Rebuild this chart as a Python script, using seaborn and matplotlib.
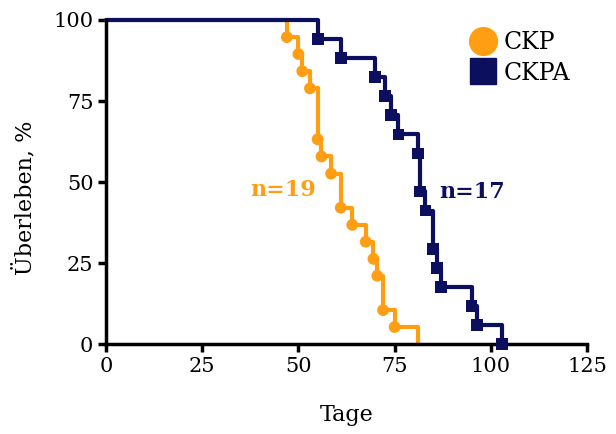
import numpy as np
import pandas as pd
import seaborn as sns
import matplotlib.pyplot as plt
from matplotlib.lines import Line2D

# Kaplan-Meier curves (day, survival %)
ckp_days = [0, 47, 50, 51, 53, 55, 56, 58.5, 61, 64, 67.5, 69.5, 70.5, 72, 75, 81]
ckp_surv = [100, 94.7, 89.5, 84.2, 78.9, 63.2, 57.9, 52.6, 42.1, 36.8, 31.6, 26.3, 21.1, 10.5, 5.3, 0]
ckpa_days = [0, 55, 61, 70, 72.5, 74, 76, 81, 81.5, 83, 85, 86, 87, 95, 96.5, 103]
ckpa_surv = [100, 94.1, 88.2, 82.4, 76.5, 70.6, 64.7, 58.8, 47.1, 41.2, 29.4, 23.5, 17.6, 11.8, 5.9, 0]

orange = "#FF9E12"
navy = "#0B0F5E"

sns.set_style("ticks")
plt.rcParams['font.family'] = ['DejaVu Serif']
plt.rcParams['text.color'] = 'black'
plt.rcParams['axes.labelcolor'] = 'black'
plt.rcParams['xtick.color'] = 'black'
plt.rcParams['ytick.color'] = 'black'

ckp = pd.DataFrame({"Tage": ckp_days, "surv": ckp_surv})
ckpa = pd.DataFrame({"Tage": ckpa_days, "surv": ckpa_surv})

fig = plt.figure(figsize=(6.16, 4.34), dpi=100)
ax = fig.add_axes([0.172, 0.207, 0.781, 0.747])

sns.lineplot(data=ckp, x="Tage", y="surv", ax=ax, color=orange, lw=3,
             drawstyle="steps-post", estimator=None, sort=False, clip_on=False)
sns.lineplot(data=ckpa, x="Tage", y="surv", ax=ax, color=navy, lw=3,
             drawstyle="steps-post", estimator=None, sort=False, clip_on=False)

# symbols at each event (orange final point sits under the axis)
sns.scatterplot(data=ckp.iloc[1:-1], x="Tage", y="surv", ax=ax, color=orange,
                marker="o", s=72, edgecolor="none", clip_on=False, zorder=4)
sns.scatterplot(data=ckpa.iloc[1:], x="Tage", y="surv", ax=ax, color=navy,
                marker="s", s=72, edgecolor="none", clip_on=False, zorder=4)

ax.set_xlim(0, 125)
ax.set_ylim(0, 100)
ax.set_xticks([0, 25, 50, 75, 100, 125])
ax.set_yticks([0, 25, 50, 75, 100])
ax.tick_params(labelsize=15, width=2.5, length=6, pad=3)
for s in ["left", "bottom"]:
    ax.spines[s].set_linewidth(2.5)
    ax.spines[s].set_color("black")
sns.despine(ax=ax)

ax.set_xlabel("Tage", fontsize=16)
ax.set_ylabel("Überleben, %", fontsize=16)
ax.xaxis.set_label_coords(0.5, -0.185)
ax.yaxis.set_label_coords(-0.145, 0.45)

ax.text(54.5, 47.5, "n=19", color=orange, fontsize=16, fontweight="bold", ha="right", va="center")
ax.text(86.5, 47, "n=17", color=navy, fontsize=16, fontweight="bold", ha="left", va="center")

handles = [Line2D([], [], ls="none", marker="o", ms=20, color=orange),
           Line2D([], [], ls="none", marker="s", ms=19, color=navy)]
ax.legend(handles, ["CKP", "CKPA"], loc="upper right", bbox_to_anchor=(1.01, 1.03),
          frameon=False, fontsize=17, handletextpad=0.3, labelspacing=0.3,
          handlelength=1.2)

fig.savefig("out.png", dpi=100)
